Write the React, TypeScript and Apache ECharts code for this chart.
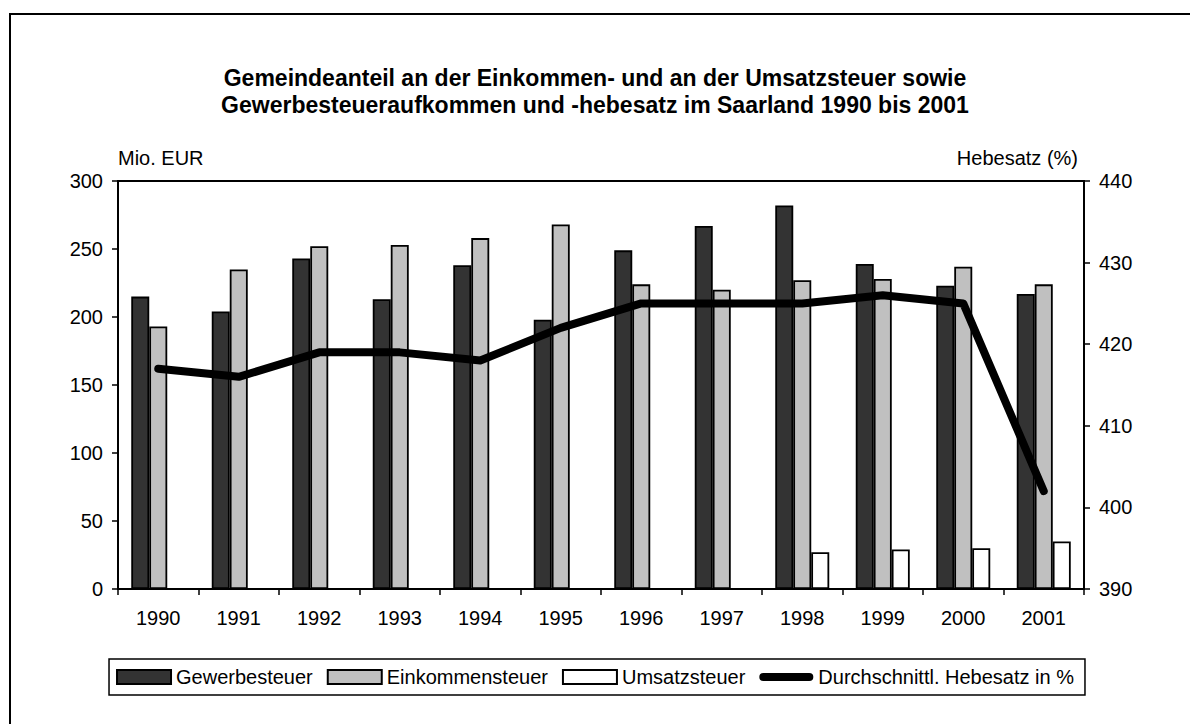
import React, { useEffect, useRef } from "react";
import * as echarts from "echarts";

const years = ["1990", "1991", "1992", "1993", "1994", "1995", "1996", "1997", "1998", "1999", "2000", "2001"];
const gewerbesteuer = [215, 204, 243, 213, 238, 198, 249, 267, 282, 239, 223, 217];
const einkommensteuer = [193, 235, 252, 253, 258, 268, 224, 220, 227, 228, 237, 224];
const umsatzsteuer = [null, null, null, null, null, null, null, null, 27, 29, 30, 35];
const hebesatz = [417, 416, 419, 419, 418, 422, 425, 425, 425, 426, 425, 402];

const FONT = "'Liberation Sans', Arial, sans-serif";
const LINE_ICON = "path://M0,0 M54,14 M4,3 L50,3 A4,4 0 0 1 50,11 L4,11 A4,4 0 0 1 4,3 Z";

export default function App() {
  const ref = useRef<HTMLDivElement>(null);
  useEffect(() => {
    const chart = echarts.init(ref.current!, null, { renderer: "svg" });
    const barBorder = { borderColor: "#000", borderWidth: 1.8 };
    chart.setOption({
      animation: false,
      backgroundColor: "#fff",
      textStyle: { fontFamily: FONT, color: "#000" },
      title: {
        text: "Gemeindeanteil an der Einkommen- und an der Umsatzsteuer sowie\nGewerbesteueraufkommen und -hebesatz im Saarland 1990 bis 2001",
        left: "center",
        top: 59,
        textStyle: { fontFamily: FONT, fontSize: 23, fontWeight: "bold", color: "#000", lineHeight: 27 },
      },
      graphic: [
        {
          type: "rect",
          shape: { x: 10, y: 14, width: 1400, height: 900 },
          style: { fill: "none", stroke: "#000", lineWidth: 2 },
          silent: true,
        },
      ],
      legend: {
        left: "center",
        top: 659,
        itemWidth: 54,
        itemHeight: 14,
        itemGap: 14,
        padding: [8, 11, 8, 7],
        borderColor: "#000",
        borderWidth: 1.5,
        textStyle: { fontFamily: FONT, fontSize: 20, color: "#000" },
        data: [
          { name: "Gewerbesteuer", icon: "rect" },
          { name: "Einkommensteuer", icon: "rect" },
          { name: "Umsatzsteuer", icon: "rect" },
          { name: "Durchschnittl. Hebesatz in %", icon: LINE_ICON, itemStyle: { color: "#000", borderWidth: 0 } },
        ],
      },
      grid: {
        left: 118,
        right: 106,
        top: 181,
        bottom: 135,
        show: true,
        borderColor: "#000",
        borderWidth: 2,
        backgroundColor: "#fff",
      },
      xAxis: {
        type: "category",
        data: years,
        boundaryGap: true,
        axisLine: { lineStyle: { color: "#000", width: 2 } },
        axisTick: { show: true, length: 6, lineStyle: { color: "#000", width: 1.5 } },
        axisLabel: { fontFamily: FONT, fontSize: 20, color: "#000", margin: 19 },
      },
      yAxis: [
        {
          type: "value",
          min: 0,
          max: 300,
          interval: 50,
          name: "Mio. EUR",
          nameLocation: "end",
          nameGap: 13,
          nameTextStyle: { fontFamily: FONT, fontSize: 20, color: "#000", align: "left", verticalAlign: "bottom" },
          axisLine: { show: true, lineStyle: { color: "#000", width: 2 } },
          axisTick: { show: true, length: 6, lineStyle: { color: "#000", width: 1.5 } },
          axisLabel: { fontFamily: FONT, fontSize: 20, color: "#000", margin: 15 },
          splitLine: { show: false },
        },
        {
          type: "value",
          min: 390,
          max: 440,
          interval: 10,
          position: "right",
          name: "Hebesatz (%)",
          nameLocation: "end",
          nameGap: 13,
          nameTextStyle: { fontFamily: FONT, fontSize: 20, color: "#000", align: "right", verticalAlign: "bottom", padding: [0, 6, 0, 0] },
          axisLine: { show: true, lineStyle: { color: "#000", width: 2 } },
          axisTick: { show: true, length: 6, lineStyle: { color: "#000", width: 1.5 } },
          axisLabel: { fontFamily: FONT, fontSize: 20, color: "#000", margin: 15 },
          splitLine: { show: false },
        },
      ],
      series: [
        {
          name: "Gewerbesteuer",
          type: "bar",
          data: gewerbesteuer,
          barWidth: 18,
          barGap: "0%",
          itemStyle: { color: "#333333", ...barBorder },
        },
        {
          name: "Einkommensteuer",
          type: "bar",
          data: einkommensteuer,
          barWidth: 18,
          barGap: "0%",
          itemStyle: { color: "#c0c0c0", ...barBorder },
        },
        {
          name: "Umsatzsteuer",
          type: "bar",
          data: umsatzsteuer,
          barWidth: 18,
          barGap: "0%",
          itemStyle: { color: "#ffffff", ...barBorder },
        },
        {
          name: "Durchschnittl. Hebesatz in %",
          type: "line",
          yAxisIndex: 1,
          data: hebesatz,
          symbol: "none",
          showSymbol: false,
          lineStyle: { color: "#000", width: 8, cap: "round", join: "round" },
          itemStyle: { color: "#000" },
          z: 5,
        },
      ],
    });
    return () => chart.dispose();
  }, []);
  return <div ref={ref} style={{ position: "absolute", left: 0, top: 0, width: 1190, height: 724 }} />;
}
